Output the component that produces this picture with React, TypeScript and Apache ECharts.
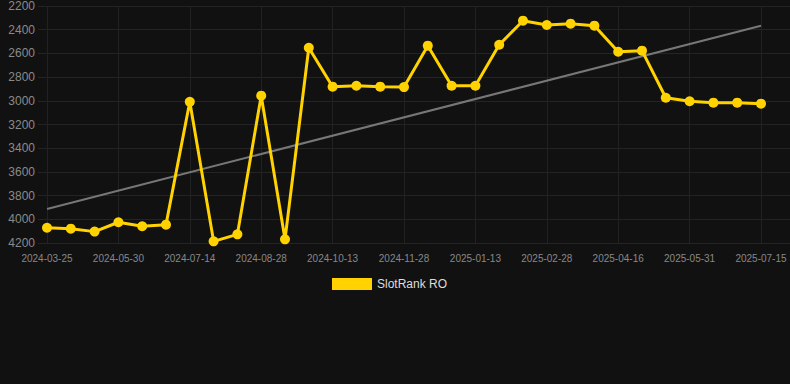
import React, { useEffect, useRef } from "react";
import * as echarts from "echarts";

const categories = [
  "2024-03-25", "2024-04-17", "2024-05-09", "2024-05-30", "2024-06-14", "2024-06-29",
  "2024-07-14", "2024-07-29", "2024-08-13", "2024-08-28", "2024-09-12", "2024-09-27",
  "2024-10-13", "2024-10-28", "2024-11-12", "2024-11-28", "2024-12-13", "2024-12-28",
  "2025-01-13", "2025-01-28", "2025-02-12", "2025-02-28", "2025-03-15", "2025-03-31",
  "2025-04-16", "2025-05-01", "2025-05-16", "2025-05-31", "2025-06-15", "2025-06-30",
  "2025-07-15",
];

const rankValues = [
  4071, 4079, 4104, 4025, 4059, 4045,
  3008, 4186, 4127, 2957, 4169, 2552,
  2881, 2873, 2881, 2884, 2535, 2873,
  2873, 2527, 2324, 2360, 2349, 2366,
  2586, 2577, 2974, 3004, 3016, 3016,
  3024,
];

const trendStart = 3913;
const trendEnd = 2366;

const yMin = 2200;
const yMax = 4200;
const yInterval = 200;

export default function App() {
  const ref = useRef<HTMLDivElement>(null);
  useEffect(() => {
    if (!ref.current) return;
    const chart = echarts.init(ref.current, null, { renderer: "svg" });
    chart.setOption({
      animation: false,
      backgroundColor: "#111111",
      textStyle: { fontFamily: "Liberation Sans, Arial, sans-serif" },
      grid: [
        { left: 38, right: 0, top: 6, bottom: 141, containLabel: false },
        { left: 47, right: 29, top: 6, bottom: 141, containLabel: false },
      ],
      xAxis: [
        { gridIndex: 0, type: "value", show: false, min: 0, max: 1 },
        {
          gridIndex: 1,
          type: "category",
          data: categories,
          boundaryGap: false,
          axisLine: { show: false },
          axisTick: { show: false, interval: 2 },
          axisLabel: { interval: 2, color: "#888888", fontSize: 10, margin: 10 },
          splitLine: { show: true, interval: 2, lineStyle: { color: "#222222", width: 1 } },
        },
      ],
      yAxis: [
        {
          gridIndex: 0,
          type: "value",
          inverse: true,
          min: yMin,
          max: yMax,
          interval: yInterval,
          axisLine: { show: false },
          axisTick: { show: false },
          axisLabel: {
            color: "#8a8a8a",
            fontSize: 12,
            margin: 3,
            formatter: (v: number) => String(v),
          },
          splitLine: { show: true, lineStyle: { color: "#242424", width: 1 } },
        },
        {
          gridIndex: 1,
          type: "value",
          inverse: true,
          min: yMin,
          max: yMax,
          interval: yInterval,
          show: false,
          splitLine: { show: false },
        },
      ],
      legend: {
        data: [{ name: "SlotRank RO" }],
        top: 273,
        left: 327,
        itemWidth: 40,
        itemHeight: 12,
        icon: "rect",
        textStyle: { color: "#dddddd", fontSize: 12 },
      },
      series: [
        {
          name: "Trend",
          type: "line",
          xAxisIndex: 1,
          yAxisIndex: 1,
          data: [
            [categories[0], trendStart],
            [categories[categories.length - 1], trendEnd],
          ],
          symbol: "none",
          lineStyle: { color: "#777777", width: 2 },
          itemStyle: { color: "#777777" },
          silent: true,
          z: 1,
        },
        {
          name: "SlotRank RO",
          type: "line",
          xAxisIndex: 1,
          yAxisIndex: 1,
          data: rankValues,
          symbol: "circle",
          symbolSize: 10,
          lineStyle: { color: "#FFD200", width: 3 },
          itemStyle: { color: "#FFD200" },
          z: 2,
        },
      ],
    });
    return () => chart.dispose();
  }, []);
  return (
    <div
      ref={ref}
      style={{ position: "fixed", left: 0, top: 0, width: 790, height: 384 }}
    />
  );
}
